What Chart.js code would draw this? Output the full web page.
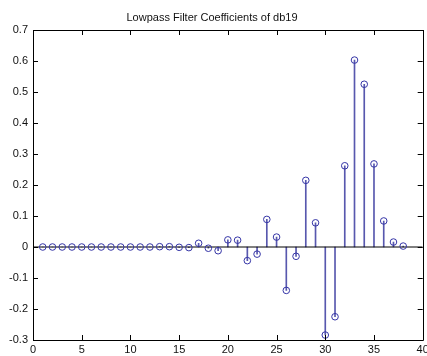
<!DOCTYPE html>
<html>
<head>
<meta charset="utf-8">
<script src="https://cdn.jsdelivr.net/npm/chart.js@4/dist/chart.umd.min.js"></script>
<style>
  html, body { margin: 0; padding: 0; background: #fff; }
  #chart { display: block; }
</style>
</head>
<body>
<canvas id="chart" width="427" height="356"></canvas>
<script>
// coefficient index (MATLAB stem starts at 1)
const indices = [1, 2, 3, 4, 5, 6, 7, 8, 9, 10, 11, 12, 13, 14, 15, 16, 17, 18, 19,
  20, 21, 22, 23, 24, 25, 26, 27, 28, 29, 30, 31, 32, 33, 34, 35, 36, 37, 38];
// values
const coeffs = [0, 0, 0, 0, 0, 0, 0, 0, 0, 0, 0, 0, 0.001, 0.001, -0.001, -0.002,
  0.012, -0.004, -0.012, 0.023, 0.022, -0.044, -0.023, 0.089, 0.032, -0.14,
  -0.03, 0.215, 0.078, -0.284, -0.225, 0.262, 0.603, 0.525, 0.268, 0.084, 0.016, 0.003];
const xTicks = [0, 5, 10, 15, 20, 25, 30, 35, 40];
const yTicks = [-0.3, -0.2, -0.1, 0, 0.1, 0.2, 0.3, 0.4, 0.5, 0.6, 0.7];

const points = indices.map((x, i) => ({ x: x, y: coeffs[i] }));

// matlab style box with inward ticks
const axesBox = {
  id: 'axesBox',
  afterDatasetsDraw(chart) {
    const ctx = chart.ctx;
    const a = chart.chartArea;
    const sx = chart.scales.x, sy = chart.scales.y;
    const len = 5;
    ctx.save();
    ctx.strokeStyle = '#000';
    ctx.lineWidth = 1;
    ctx.beginPath();
    ctx.rect(Math.round(a.left) + 0.5, Math.round(a.top) + 0.5,
      Math.round(a.right - a.left), Math.round(a.bottom - a.top));
    xTicks.forEach(t => {
      const px = Math.round(sx.getPixelForValue(t)) + 0.5;
      ctx.moveTo(px, a.bottom); ctx.lineTo(px, a.bottom - len);
      ctx.moveTo(px, a.top); ctx.lineTo(px, a.top + len);
    });
    yTicks.forEach(t => {
      const py = Math.round(sy.getPixelForValue(t)) + 0.5;
      ctx.moveTo(a.left, py); ctx.lineTo(a.left + len, py);
      ctx.moveTo(a.right, py); ctx.lineTo(a.right - len, py);
    });
    ctx.stroke();
    ctx.restore();
  }
};

const font = { family: 'Liberation Sans, Arial, sans-serif', size: 11 };

new Chart(document.getElementById('chart').getContext('2d'), {
  type: 'scatter',
  data: {
    datasets: [
      {
        type: 'scatter',
        data: points,
        borderColor: '#3434a6',
        backgroundColor: 'rgba(0,0,0,0)',
        borderWidth: 1,
        pointRadius: 3.3,
        pointHoverRadius: 3.3,
        order: 0
      },
      {
        type: 'line',
        data: [{ x: 0, y: 0 }, { x: 40, y: 0 }],
        borderColor: '#000',
        borderWidth: 1,
        pointRadius: 0,
        order: 1
      },
      {
        type: 'bar',
        data: points,
        backgroundColor: '#5858ae',
        barThickness: 1,
        order: 2
      }
    ]
  },
  options: {
    responsive: false,
    animation: false,
    layout: { padding: { left: 0, right: 3, top: 0, bottom: 0 } },
    plugins: {
      legend: { display: false },
      tooltip: { enabled: false },
      title: {
        display: true,
        text: 'Lowpass Filter Coefficients of db19',
        color: '#111',
        font: { family: font.family, size: 11, weight: 'normal' },
        padding: { top: 11, bottom: 5.8 }
      }
    },
    scales: {
      x: {
        type: 'linear',
        min: 0,
        max: 40,
        offset: false,
        grid: { display: false, drawTicks: false },
        border: { display: false },
        ticks: { stepSize: 5, color: '#111', font: font, padding: 3, maxRotation: 0 },
        afterFit(s) { s.height = 16; s.paddingLeft = 0; s.paddingRight = 0; }
      },
      y: {
        type: 'linear',
        min: -0.3,
        max: 0.7,
        grid: { display: false, drawTicks: false },
        border: { display: false },
        ticks: {
          stepSize: 0.1,
          color: '#111',
          font: font,
          padding: 5,
          callback: v => { const r = Math.round(v * 10) / 10; return r === 0 ? '0' : r.toFixed(1); }
        },
        afterFit(s) { s.width = 33; s.paddingTop = 0; s.paddingBottom = 0; }
      }
    }
  },
  plugins: [axesBox]
});
</script>
</body>
</html>
